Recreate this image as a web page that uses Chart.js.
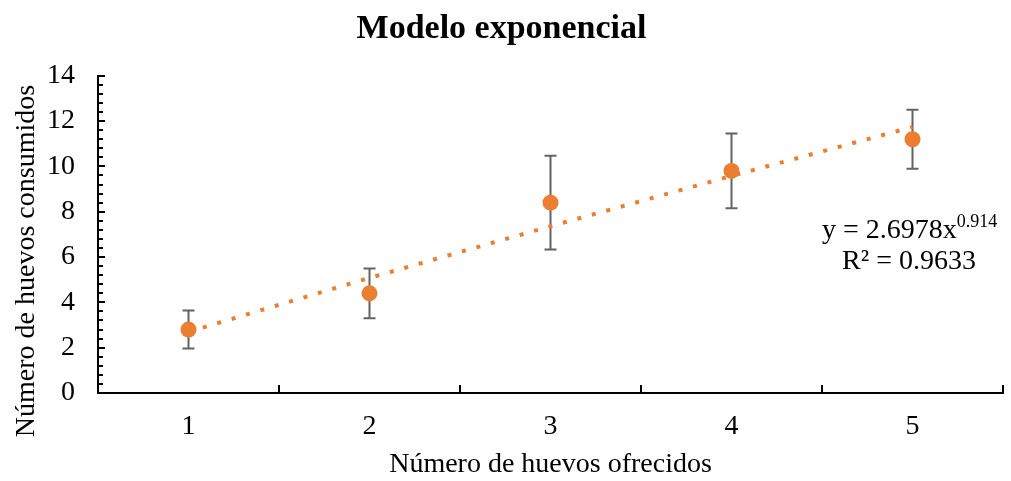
<!DOCTYPE html>
<html>
<head>
<meta charset="utf-8">
<script src="https://cdn.jsdelivr.net/npm/chart.js@4.4.0/dist/chart.umd.min.js"></script>
<style>
  html, body { margin: 0; padding: 0; background: #fff; }
  #wrap { width: 1011px; height: 481px; }
</style>
</head>
<body>
<div id="wrap"><canvas id="chart"></canvas></div>
<script>
// data
const categories = ['1', '2', '3', '4', '5'];
const meanEaten = [2.8, 4.4, 8.4, 9.8, 11.2];
const errorSize = [0.84, 1.1, 2.07, 1.65, 1.3];
const trendValues = [2.7, 5.08, 7.36, 9.58, 11.74];
const yMin = 0, yMax = 14, yStep = 2, yMinorStep = 0.4;
const eqCoef = '2.6978', eqExp = '0.914', eqR2 = '0.9633';

const SERIF = '"Liberation Serif", "Times New Roman", serif';
const ORANGE = '#ED7D31';
const BAR_GREY = '#636363';

// inside tick marks, error bars, y title and the trendline label
const decorPlugin = {
    id: 'decor',
    beforeDatasetsDraw(chart) {
        const { ctx, scales: { x, y } } = chart;
        ctx.save();
        ctx.strokeStyle = BAR_GREY;
        ctx.lineWidth = 2;
        meanEaten.forEach((v, i) => {
            const px = x.getPixelForValue(i);
            const top = y.getPixelForValue(v + errorSize[i]);
            const bot = y.getPixelForValue(v - errorSize[i]);
            ctx.beginPath();
            ctx.moveTo(px, top); ctx.lineTo(px, bot);
            ctx.moveTo(px - 6, top); ctx.lineTo(px + 6, top);
            ctx.moveTo(px - 6, bot); ctx.lineTo(px + 6, bot);
            ctx.stroke();
        });
        ctx.restore();
    },
    afterDraw(chart) {
        const { ctx, chartArea: area, scales: { x, y } } = chart;
        ctx.save();
        ctx.strokeStyle = '#000';
        ctx.lineWidth = 2;
        ctx.beginPath();
        // y ticks, minor every 0.4 and major every 2
        const n = Math.round((yMax - yMin) / yMinorStep);
        for (let k = 0; k <= n; k++) {
            const val = yMin + k * yMinorStep;
            const py = Math.round(y.getPixelForValue(val));
            const major = k % Math.round(yStep / yMinorStep) === 0;
            ctx.moveTo(area.left, py);
            ctx.lineTo(area.left + (major ? 7 : 5), py);
        }
        // x ticks between categories
        for (let i = 0; i <= categories.length; i++) {
            const px = Math.round(x.getPixelForValue(i - 0.5));
            ctx.moveTo(px, area.bottom);
            ctx.lineTo(px, area.bottom - 8);
        }
        ctx.stroke();

        // y axis title
        ctx.fillStyle = '#000';
        ctx.font = '28px ' + SERIF;
        ctx.textAlign = 'center';
        ctx.textBaseline = 'alphabetic';
        ctx.save();
        ctx.translate(34, 261);
        ctx.rotate(-Math.PI / 2);
        ctx.fillText('Número de huevos consumidos', 0, 0);
        ctx.restore();

        // trendline equation
        ctx.textAlign = 'left';
        ctx.font = '28px ' + SERIF;
        const main = 'y = ' + eqCoef + 'x';
        ctx.fillText(main, 822, 238);
        const w = ctx.measureText(main).width;
        ctx.font = '18px ' + SERIF;
        ctx.fillText(eqExp, 822 + w, 227);
        ctx.font = '28px ' + SERIF;
        ctx.textAlign = 'center';
        ctx.fillText('R² = ' + eqR2, 909, 269);
        ctx.restore();
    }
};

new Chart(document.getElementById('chart'), {
    type: 'line',
    data: {
        labels: categories,
        datasets: [
            {
                label: 'Tendencia',
                data: trendValues,
                borderColor: ORANGE,
                borderWidth: 4,
                borderDash: [4, 11],
                borderCapStyle: 'butt',
                pointRadius: 0,
                fill: false,
                order: 0,
            },
            {
                label: 'Huevos consumidos',
                data: meanEaten,
                showLine: false,
                pointRadius: 8,
                pointBackgroundColor: ORANGE,
                pointBorderColor: ORANGE,
                pointBorderWidth: 0,
                order: 1,
            },
        ],
    },
    options: {
        responsive: true,
        maintainAspectRatio: false,
        animation: false,
        layout: { padding: { left: 0, right: 8, top: 0, bottom: 0 } },
        plugins: {
            legend: { display: false },
            tooltip: { enabled: false },
            title: {
                display: true,
                text: 'Modelo exponencial',
                color: '#000',
                font: { family: SERIF, size: 34, weight: 'bold' },
                padding: { top: 9, bottom: 26 },
            },
        },
        scales: {
            x: {
                type: 'category',
                offset: true,
                grid: { display: false, drawTicks: false },
                border: { display: true, color: '#000', width: 2 },
                ticks: { color: '#000', font: { family: SERIF, size: 28 }, padding: 17 },
                title: {
                    display: true,
                    text: 'Número de huevos ofrecidos',
                    color: '#000',
                    font: { family: SERIF, size: 28 },
                    padding: { top: 0, bottom: 0 },
                },
                afterFit: s => { s.height = 88; },
            },
            y: {
                min: yMin,
                max: yMax,
                grid: { display: false, drawTicks: false },
                border: { display: true, color: '#000', width: 2 },
                ticks: { stepSize: yStep, color: '#000', font: { family: SERIF, size: 28 }, padding: 23 },
                afterFit: s => { s.width = 98; },
            },
        },
    },
    plugins: [decorPlugin],
});
</script>
</body>
</html>
